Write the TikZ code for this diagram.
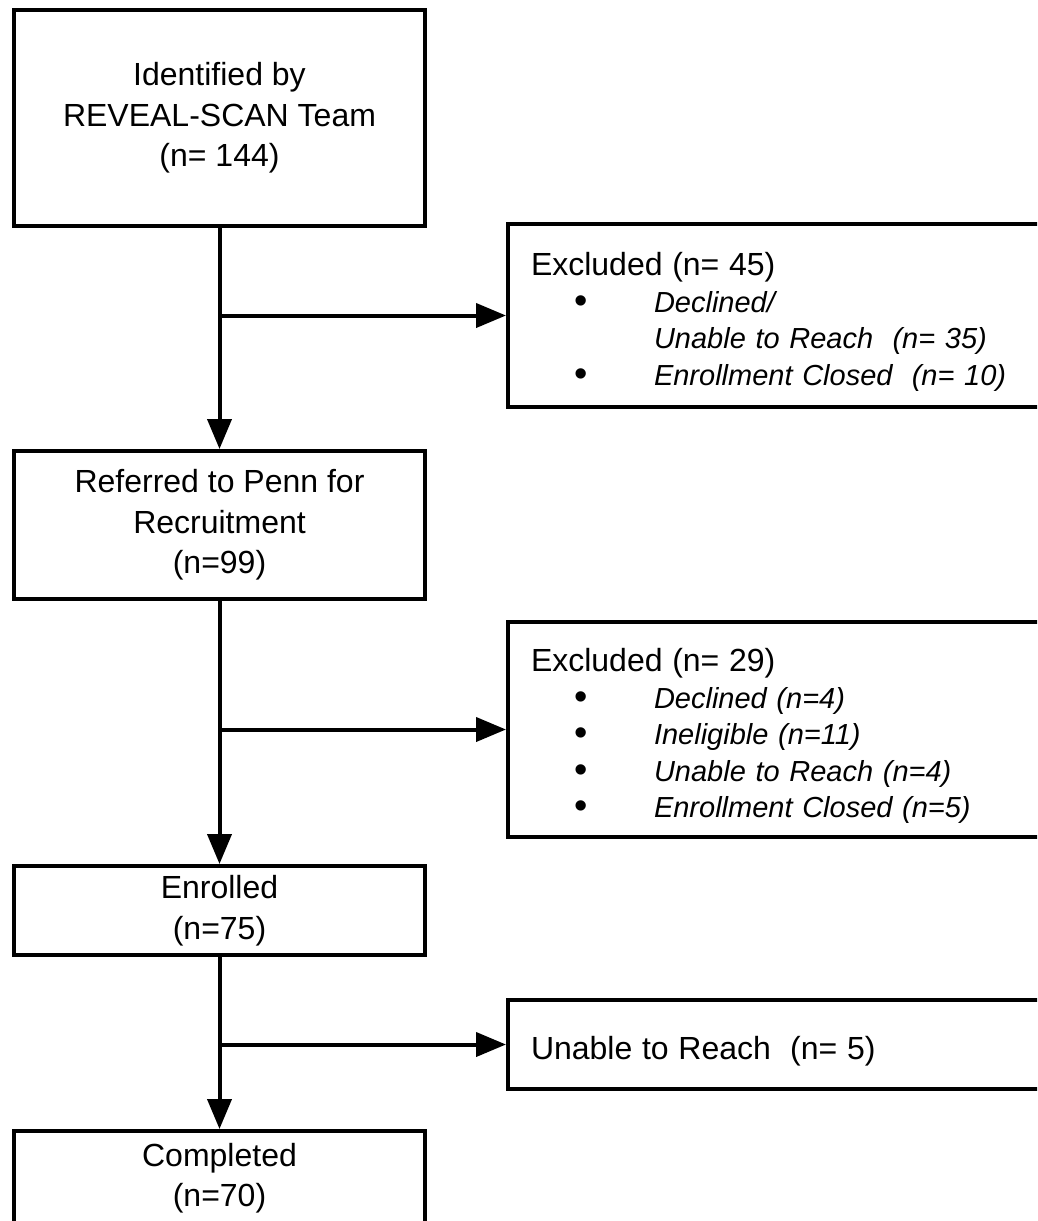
\documentclass[tikz,border=0pt]{standalone}
\usepackage{fontspec}
\setmainfont{Liberation Sans}
\usetikzlibrary{arrows.meta}
\newcommand{\bdot}{{\fontsize{38}{0}\selectfont\raisebox{-1pt}{\textbullet}}}
\newcommand{\bitem}[1]{\makebox[0pt][l]{\hspace*{43pt}\bdot}\hspace*{123pt}\textit{#1}}
\newcommand{\bmore}[1]{\hspace*{123pt}\textit{#1}}
\newcommand{\bhead}[1]{{\fontsize{32}{37}\selectfont #1}}
\tikzset{
	flowbox/.style={draw,line width=4pt,rectangle,align=center,minimum width=411pt,inner sep=0pt,font=\fontsize{32}{40.5}\selectfont,execute at begin node={\rule{0pt}{35pt}}},
	sidebox/.style={draw,line width=4pt,rectangle,align=left,anchor=west,text width=514pt,inner xsep=23pt,inner ysep=0pt,font=\fontsize{29}{36.5}\selectfont,execute at begin node={\rule{0pt}{36pt}}},
	flow/.style={line width=4pt,-{Triangle[length=30pt,width=24pt]}}
}
\begin{document}
\begin{tikzpicture}[x=1pt,y=-1pt]
				\useasboundingbox (0,0) rectangle (1037,1221);
				\clip (0,0) rectangle (1037,1221);
				\fill [white](0,0) rectangle (1037,1221);
				% main column
				\node [flowbox,minimum height=216pt](ident) at (219.5,118){Identified by\\REVEAL-SCAN Team\\(n= 144)};
				\node [flowbox,minimum height=148pt](refer) at (219.5,525){Referred to Penn for\\Recruitment\\(n=99)};
				\node [flowbox,minimum height=89pt](enrol) at (219.5,910.5){Enrolled\\(n=75)};
				\node [flowbox,minimum height=94pt](compl) at (219.5,1178){Completed\\(n=70)};
				% side boxes
				\node [sidebox,minimum height=183pt](excla) at (506,315.5){\bhead{Excluded (n= 45)}\\\bitem{Declined/}\\\bmore{Unable to Reach\ \ (n= 35)}\\\bitem{Enrollment Closed\ \ (n= 10)}};
				\node [sidebox,minimum height=215pt](exclb) at (506,729.5){\bhead{Excluded (n= 29)}\\\bitem{Declined (n=4)}\\\bitem{Ineligible (n=11)}\\\bitem{Unable to Reach (n=4)}\\\bitem{Enrollment Closed (n=5)}};
				\node [sidebox,minimum height=89pt](unabl) at (506,1044.5){\bhead{Unable to Reach\ \ (n= 5)}};
				% connectors
				\draw [flow](ident)--(refer);
				\draw [flow](refer)--(enrol);
				\draw [flow](enrol)--(compl);
				\coordinate (ja) at (ident.south |- excla.west);
				\coordinate (jb) at (refer.south |- exclb.west);
				\coordinate (jc) at (enrol.south |- unabl.west);
				\draw [flow](ja)--(excla.west);
				\draw [flow](jb)--(exclb.west);
				\draw [flow](jc)--(unabl.west);
			\end{tikzpicture}
\end{document}
